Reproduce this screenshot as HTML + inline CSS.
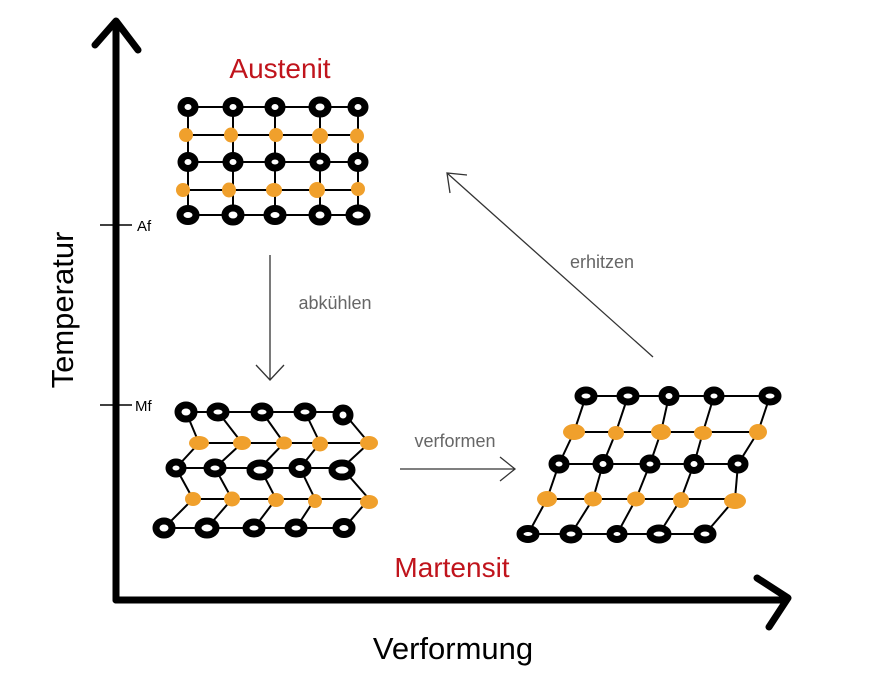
<!DOCTYPE html>
<html><head><meta charset="utf-8"><style>
html,body{margin:0;padding:0;background:#fff;}
svg{display:block;}
</style></head><body>
<svg width="892" height="684" viewBox="0 0 892 684" xmlns="http://www.w3.org/2000/svg" font-family="Liberation Sans, sans-serif">
<rect width="892" height="684" fill="#fff"/>
<g stroke="#000" stroke-width="7" stroke-linecap="round" stroke-linejoin="round" fill="none">
<line x1="116" y1="22" x2="116" y2="600"/>
<polyline points="95,45 116,21 138,50"/>
<line x1="116" y1="600" x2="786" y2="600"/>
<polyline points="757,578 788,598 769,627"/>
</g>
<g stroke="#000" stroke-width="1.5">
<line x1="100" y1="225" x2="132" y2="225"/>
<line x1="100" y1="405" x2="132" y2="405"/>
</g>
<text x="137" y="231" font-size="15">Af</text>
<text x="135" y="411" font-size="15">Mf</text>
<text transform="translate(73,310) rotate(-90)" font-size="31" text-anchor="middle">Temperatur</text>
<text x="453" y="659" font-size="31" text-anchor="middle">Verformung</text>
<text x="280" y="78" font-size="28" fill="#c0141c" text-anchor="middle">Austenit</text>
<text x="452" y="577" font-size="28" fill="#c0141c" text-anchor="middle">Martensit</text>
<g stroke="#333" stroke-width="1.3" fill="none">
<line x1="270" y1="255" x2="270" y2="380"/>
<polyline points="256,365 270,380 284,365"/>
<line x1="400" y1="469" x2="515" y2="469"/>
<polyline points="500,457 515,469 500,481"/>
<line x1="653" y1="357" x2="447" y2="173"/>
<polyline points="450,193 447,173 467,175"/>
</g>
<text x="335" y="309" font-size="18" fill="#666" text-anchor="middle">abkühlen</text>
<text x="455" y="447" font-size="18" fill="#666" text-anchor="middle">verformen</text>
<text x="602" y="268" font-size="18" fill="#666" text-anchor="middle">erhitzen</text>
<g stroke="#000" stroke-width="2" fill="none">
<polyline points="188,107 233,107 275,107 320,107 358,107"/>
<polyline points="188,135 233,135 275,135 320,135 358,135"/>
<polyline points="188,162 233,162 275,162 320,162 358,162"/>
<polyline points="188,190 233,190 275,190 320,190 358,190"/>
<polyline points="188,215 233,215 275,215 320,215 358,215"/>
<line x1="188" y1="107" x2="188" y2="215"/>
<line x1="233" y1="107" x2="233" y2="215"/>
<line x1="275" y1="107" x2="275" y2="215"/>
<line x1="320" y1="107" x2="320" y2="215"/>
<line x1="358" y1="107" x2="358" y2="215"/>
<polyline points="186,412 218,412 262,412 305,412 343,412"/>
<polyline points="199,443 242,443 284,443 320,443 369,443"/>
<polyline points="176,468 215,468 260,468 300,468 342,468"/>
<polyline points="193,499 232,499 276,499 315,499 369,499"/>
<polyline points="164,528 207,528 254,528 296,528 344,528"/>
<polyline points="186,412 199,443 176,468 193,499 164,528"/>
<polyline points="218,412 242,443 215,468 232,499 207,528"/>
<polyline points="262,412 284,443 260,468 276,499 254,528"/>
<polyline points="305,412 320,443 300,468 315,499 296,528"/>
<polyline points="343,412 369,443 342,468 369,499 344,528"/>
<polyline points="586,396 628,396 669,396 714,396 770,396"/>
<polyline points="574,432 616,432 661,432 703,432 758,432"/>
<polyline points="559,464 603,464 650,464 694,464 738,464"/>
<polyline points="547,499 593,499 636,499 681,499 735,499"/>
<polyline points="528,534 571,534 617,534 659,534 705,534"/>
<polyline points="586,396 574,432 559,464 547,499 528,534"/>
<polyline points="628,396 616,432 603,464 593,499 571,534"/>
<polyline points="669,396 661,432 650,464 636,499 617,534"/>
<polyline points="714,396 703,432 694,464 681,499 659,534"/>
<polyline points="770,396 758,432 738,464 735,499 705,534"/>
</g>
<g stroke="#000" stroke-width="7" fill="#fff">
<ellipse cx="188" cy="107" rx="7" ry="6.5"/><ellipse cx="233" cy="107" rx="7" ry="6.5"/><ellipse cx="275" cy="107" rx="7" ry="6.5"/><ellipse cx="320" cy="107" rx="8" ry="7"/><ellipse cx="358" cy="107" rx="7" ry="6.5"/>
<ellipse cx="188" cy="162" rx="7" ry="6.5"/><ellipse cx="233" cy="162" rx="7" ry="6.5"/><ellipse cx="275" cy="162" rx="7" ry="6"/><ellipse cx="320" cy="162" rx="7" ry="6"/><ellipse cx="358" cy="162" rx="7" ry="6.5"/>
<ellipse cx="188" cy="215" rx="8" ry="6.5"/><ellipse cx="233" cy="215" rx="8" ry="7"/><ellipse cx="275" cy="215" rx="8" ry="6.5"/><ellipse cx="320" cy="215" rx="8" ry="7"/><ellipse cx="358" cy="215" rx="9" ry="7"/>
<ellipse cx="186" cy="412" rx="8" ry="7"/><ellipse cx="218" cy="412" rx="8" ry="6"/><ellipse cx="262" cy="412" rx="8" ry="6"/><ellipse cx="305" cy="412" rx="8" ry="6"/><ellipse cx="343" cy="415" rx="7" ry="7"/>
<ellipse cx="176" cy="468" rx="7" ry="6"/><ellipse cx="215" cy="468" rx="8" ry="6"/><ellipse cx="260" cy="470" rx="10" ry="7"/><ellipse cx="300" cy="468" rx="8" ry="6.5"/><ellipse cx="342" cy="470" rx="10" ry="7"/>
<ellipse cx="164" cy="528" rx="8" ry="7"/><ellipse cx="207" cy="528" rx="9" ry="7"/><ellipse cx="254" cy="528" rx="8" ry="6"/><ellipse cx="296" cy="528" rx="8" ry="6"/><ellipse cx="344" cy="528" rx="8" ry="6.5"/>
<ellipse cx="586" cy="396" rx="8" ry="6"/><ellipse cx="628" cy="396" rx="8" ry="6"/><ellipse cx="669" cy="396" rx="7" ry="6.5"/><ellipse cx="714" cy="396" rx="7" ry="6"/><ellipse cx="770" cy="396" rx="8" ry="6"/>
<ellipse cx="559" cy="464" rx="7" ry="6"/><ellipse cx="603" cy="464" rx="7" ry="6.5"/><ellipse cx="650" cy="464" rx="7" ry="6"/><ellipse cx="694" cy="464" rx="7" ry="6.5"/><ellipse cx="738" cy="464" rx="7" ry="6"/>
<ellipse cx="528" cy="534" rx="8" ry="5.5"/><ellipse cx="571" cy="534" rx="8" ry="6"/><ellipse cx="617" cy="534" rx="7" ry="5.5"/><ellipse cx="659" cy="534" rx="9" ry="6"/><ellipse cx="705" cy="534" rx="8" ry="6"/>
</g>
<g fill="#f0a02c">
<ellipse cx="186" cy="135" rx="7" ry="7"/><ellipse cx="231" cy="135" rx="7" ry="7.5"/><ellipse cx="276" cy="135" rx="7" ry="7"/><ellipse cx="320" cy="136" rx="8" ry="8"/><ellipse cx="357" cy="136" rx="7" ry="7.5"/>
<ellipse cx="183" cy="190" rx="7" ry="7"/><ellipse cx="229" cy="190" rx="7" ry="7.5"/><ellipse cx="274" cy="190" rx="8" ry="7"/><ellipse cx="317" cy="190" rx="8" ry="8"/><ellipse cx="358" cy="189" rx="7" ry="7"/>
<ellipse cx="199" cy="443" rx="10" ry="7"/><ellipse cx="242" cy="443" rx="9" ry="7"/><ellipse cx="284" cy="443" rx="8" ry="6.5"/><ellipse cx="320" cy="444" rx="8" ry="7.5"/><ellipse cx="369" cy="443" rx="9" ry="7"/>
<ellipse cx="193" cy="499" rx="8" ry="7"/><ellipse cx="232" cy="499" rx="8" ry="7.5"/><ellipse cx="276" cy="500" rx="8" ry="7"/><ellipse cx="315" cy="501" rx="7" ry="7"/><ellipse cx="369" cy="502" rx="9" ry="7"/>
<ellipse cx="574" cy="432" rx="11" ry="8"/><ellipse cx="616" cy="433" rx="8" ry="7"/><ellipse cx="661" cy="432" rx="10" ry="8"/><ellipse cx="703" cy="433" rx="9" ry="7"/><ellipse cx="758" cy="432" rx="9" ry="8"/>
<ellipse cx="547" cy="499" rx="10" ry="8"/><ellipse cx="593" cy="499" rx="9" ry="7.5"/><ellipse cx="636" cy="499" rx="9" ry="7.5"/><ellipse cx="681" cy="500" rx="8" ry="8"/><ellipse cx="735" cy="501" rx="11" ry="8"/>
</g>
</svg>
</body></html>
